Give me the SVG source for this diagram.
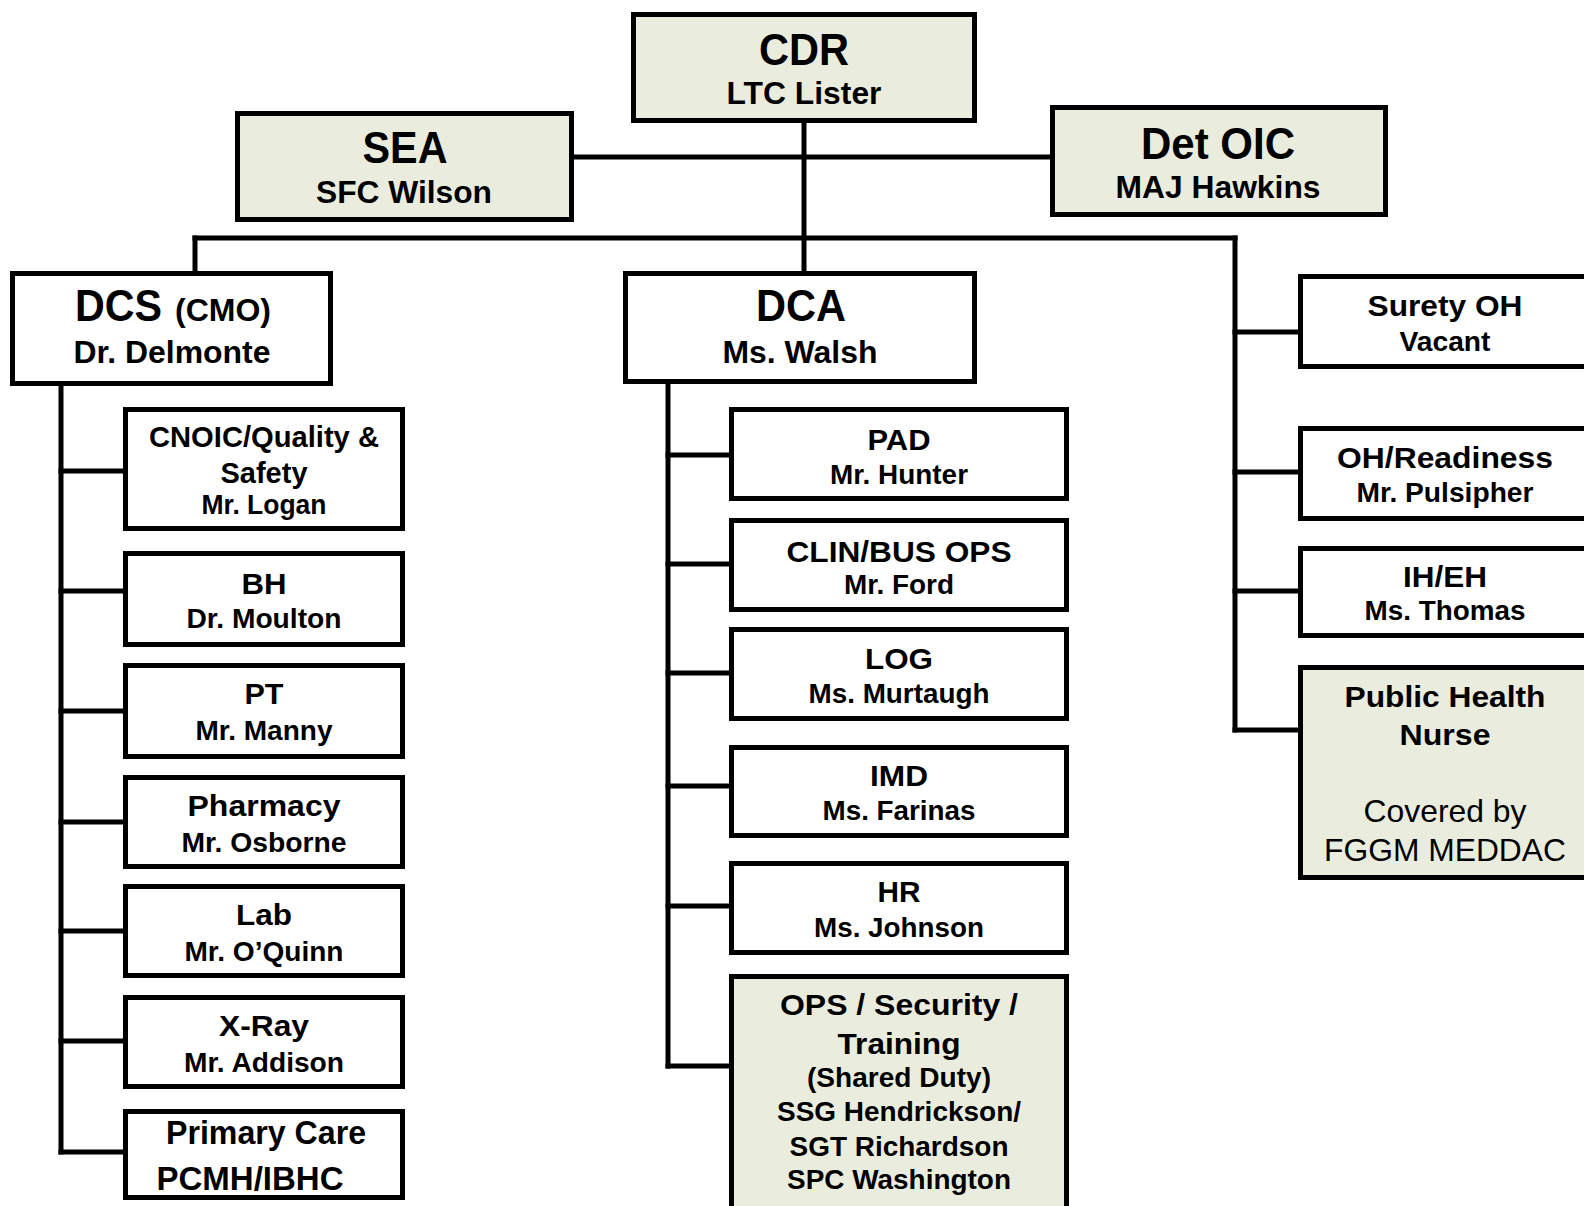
<svg xmlns="http://www.w3.org/2000/svg" width="1584" height="1206" viewBox="0 0 1584 1206">
<style>
.box{fill:#ffffff;stroke:#000;stroke-width:5}
.g{fill:#EAEDDE}
.c{stroke:#000;stroke-width:5;fill:none;stroke-linecap:square}
text{font-family:"Liberation Sans",Arial,sans-serif;font-weight:bold;fill:#000;text-anchor:middle}
.tb{font-size:44px}
.ts{font-size:31px}
.t1{font-size:30px}
.t2{font-size:27px}
.r{font-weight:normal;font-size:32px}
</style>
<rect width="1584" height="1206" fill="#fff"/>
<g id="connectors">
<line class="c" x1="804" y1="123" x2="804" y2="271"/>
<line class="c" x1="574" y1="157" x2="1050" y2="157"/>
<line class="c" x1="195" y1="238" x2="1235" y2="238"/>
<line class="c" x1="195" y1="238" x2="195" y2="271"/>
<line class="c" x1="1235" y1="238" x2="1235" y2="730"/>
<line class="c" x1="1235" y1="332" x2="1298" y2="332"/>
<line class="c" x1="1235" y1="472" x2="1298" y2="472"/>
<line class="c" x1="1235" y1="591" x2="1298" y2="591"/>
<line class="c" x1="1235" y1="730" x2="1298" y2="730"/>
<line class="c" x1="61" y1="386" x2="61" y2="1152"/>
<line class="c" x1="61" y1="471" x2="123" y2="471"/>
<line class="c" x1="61" y1="591" x2="123" y2="591"/>
<line class="c" x1="61" y1="711" x2="123" y2="711"/>
<line class="c" x1="61" y1="822" x2="123" y2="822"/>
<line class="c" x1="61" y1="931" x2="123" y2="931"/>
<line class="c" x1="61" y1="1041" x2="123" y2="1041"/>
<line class="c" x1="61" y1="1152" x2="123" y2="1152"/>
<line class="c" x1="668" y1="384" x2="668" y2="1066"/>
<line class="c" x1="668" y1="455" x2="729" y2="455"/>
<line class="c" x1="668" y1="564" x2="729" y2="564"/>
<line class="c" x1="668" y1="673" x2="729" y2="673"/>
<line class="c" x1="668" y1="786" x2="729" y2="786"/>
<line class="c" x1="668" y1="906" x2="729" y2="906"/>
<line class="c" x1="668" y1="1066" x2="729" y2="1066"/>
</g>
<g id="cdr"><rect class="box g" x="633.5" y="14.5" width="341" height="106"/>
<text class="tb" x="804" y="65" textLength="90" lengthAdjust="spacingAndGlyphs">CDR</text>
<text class="ts" x="804" y="104" textLength="155" lengthAdjust="spacingAndGlyphs">LTC Lister</text></g>
<g id="sea"><rect class="box g" x="237.5" y="113.5" width="334" height="106"/>
<text class="tb" x="405" y="163" textLength="85" lengthAdjust="spacingAndGlyphs">SEA</text>
<text class="ts" x="404" y="203" textLength="176" lengthAdjust="spacingAndGlyphs">SFC Wilson</text></g>
<g id="detoic"><rect class="box g" x="1052.5" y="107.5" width="333" height="107"/>
<text class="tb" x="1218" y="159" textLength="154" lengthAdjust="spacingAndGlyphs">Det OIC</text>
<text class="ts" x="1218" y="198" textLength="205" lengthAdjust="spacingAndGlyphs">MAJ Hawkins</text></g>
<g id="dcs"><rect class="box" x="12.5" y="273.5" width="318" height="110"/>
<text class="tb" x="75" y="321" style="text-anchor:start" textLength="87" lengthAdjust="spacingAndGlyphs">DCS</text>
<text class="ts" x="175" y="321" style="text-anchor:start" textLength="96" lengthAdjust="spacingAndGlyphs">(CMO)</text>
<text class="ts" x="172" y="363" textLength="197" lengthAdjust="spacingAndGlyphs">Dr. Delmonte</text></g>
<g id="dca"><rect class="box" x="625.5" y="273.5" width="349" height="108"/>
<text class="tb" x="801" y="321" textLength="90" lengthAdjust="spacingAndGlyphs">DCA</text>
<text class="ts" x="800" y="363" textLength="155" lengthAdjust="spacingAndGlyphs">Ms. Walsh</text></g>
<g id="cnoic"><rect class="box" x="125.5" y="409.5" width="277" height="119"/>
<text class="t1" x="264" y="447" textLength="230" lengthAdjust="spacingAndGlyphs">CNOIC/Quality &amp;</text>
<text class="t1" x="264" y="483" textLength="87" lengthAdjust="spacingAndGlyphs">Safety</text>
<text class="t2" x="264" y="514" textLength="125" lengthAdjust="spacingAndGlyphs">Mr. Logan</text></g>
<g id="bh"><rect class="box" x="125.5" y="553.5" width="277" height="91"/>
<text class="t1" x="264" y="594" textLength="45" lengthAdjust="spacingAndGlyphs">BH</text>
<text class="t2" x="264" y="628" textLength="155" lengthAdjust="spacingAndGlyphs">Dr. Moulton</text></g>
<g id="pt"><rect class="box" x="125.5" y="665.5" width="277" height="91"/>
<text class="t1" x="264" y="704" textLength="39" lengthAdjust="spacingAndGlyphs">PT</text>
<text class="t2" x="264" y="740" textLength="137" lengthAdjust="spacingAndGlyphs">Mr. Manny</text></g>
<g id="pharmacy"><rect class="box" x="125.5" y="777.5" width="277" height="89"/>
<text class="t1" x="264" y="816" textLength="153" lengthAdjust="spacingAndGlyphs">Pharmacy</text>
<text class="t2" x="264" y="852" textLength="165" lengthAdjust="spacingAndGlyphs">Mr. Osborne</text></g>
<g id="lab"><rect class="box" x="125.5" y="886.5" width="277" height="89"/>
<text class="t1" x="264" y="925" textLength="56" lengthAdjust="spacingAndGlyphs">Lab</text>
<text class="t2" x="264" y="961" textLength="159" lengthAdjust="spacingAndGlyphs">Mr. O’Quinn</text></g>
<g id="xray"><rect class="box" x="125.5" y="997.5" width="277" height="89"/>
<text class="t1" x="264" y="1036" textLength="90" lengthAdjust="spacingAndGlyphs">X-Ray</text>
<text class="t2" x="264" y="1072" textLength="160" lengthAdjust="spacingAndGlyphs">Mr. Addison</text></g>
<g id="primarycare"><rect class="box" x="125.5" y="1111.5" width="277" height="86"/>
<text class="t1" x="266" y="1144" style="font-size:33px" textLength="200" lengthAdjust="spacingAndGlyphs">Primary Care</text>
<text class="t1" x="250" y="1190" style="font-size:33px" textLength="187" lengthAdjust="spacingAndGlyphs">PCMH/IBHC</text></g>
<g id="pad"><rect class="box" x="731.5" y="409.5" width="335" height="89"/>
<text class="t1" x="899" y="450" textLength="63" lengthAdjust="spacingAndGlyphs">PAD</text>
<text class="t2" x="899" y="484" textLength="138" lengthAdjust="spacingAndGlyphs">Mr. Hunter</text></g>
<g id="clinbus"><rect class="box" x="731.5" y="520.5" width="335" height="89"/>
<text class="t1" x="899" y="562" textLength="225" lengthAdjust="spacingAndGlyphs">CLIN/BUS OPS</text>
<text class="t2" x="899" y="594" textLength="110" lengthAdjust="spacingAndGlyphs">Mr. Ford</text></g>
<g id="log"><rect class="box" x="731.5" y="629.5" width="335" height="89"/>
<text class="t1" x="899" y="669" textLength="68" lengthAdjust="spacingAndGlyphs">LOG</text>
<text class="t2" x="899" y="703" textLength="181" lengthAdjust="spacingAndGlyphs">Ms. Murtaugh</text></g>
<g id="imd"><rect class="box" x="731.5" y="747.5" width="335" height="88"/>
<text class="t1" x="899" y="786" textLength="58" lengthAdjust="spacingAndGlyphs">IMD</text>
<text class="t2" x="899" y="820" textLength="153" lengthAdjust="spacingAndGlyphs">Ms. Farinas</text></g>
<g id="hr"><rect class="box" x="731.5" y="863.5" width="335" height="89"/>
<text class="t1" x="899" y="902" textLength="43" lengthAdjust="spacingAndGlyphs">HR</text>
<text class="t2" x="899" y="937" textLength="170" lengthAdjust="spacingAndGlyphs">Ms. Johnson</text></g>
<g id="ops"><rect class="box g" x="731.5" y="976.5" width="335" height="245"/>
<text class="t1" x="899" y="1015" textLength="238" lengthAdjust="spacingAndGlyphs">OPS / Security /</text>
<text class="t1" x="899" y="1054" textLength="123" lengthAdjust="spacingAndGlyphs">Training</text>
<text class="t2" x="899" y="1087" textLength="184" lengthAdjust="spacingAndGlyphs">(Shared Duty)</text>
<text class="t2" x="899" y="1121" textLength="244" lengthAdjust="spacingAndGlyphs">SSG Hendrickson/</text>
<text class="t2" x="899" y="1156" textLength="219" lengthAdjust="spacingAndGlyphs">SGT Richardson</text>
<text class="t2" x="899" y="1189" textLength="224" lengthAdjust="spacingAndGlyphs">SPC Washington</text></g>
<g id="surety"><rect class="box" x="1300.5" y="276.5" width="300" height="90"/>
<text class="t1" x="1445" y="316" textLength="155" lengthAdjust="spacingAndGlyphs">Surety OH</text>
<text class="t2" x="1445" y="351" textLength="91" lengthAdjust="spacingAndGlyphs">Vacant</text></g>
<g id="ohreadiness"><rect class="box" x="1300.5" y="428.5" width="300" height="90"/>
<text class="t1" x="1445" y="468" textLength="216" lengthAdjust="spacingAndGlyphs">OH/Readiness</text>
<text class="t2" x="1445" y="502" textLength="177" lengthAdjust="spacingAndGlyphs">Mr. Pulsipher</text></g>
<g id="iheh"><rect class="box" x="1300.5" y="548.5" width="300" height="87"/>
<text class="t1" x="1445" y="587" textLength="84" lengthAdjust="spacingAndGlyphs">IH/EH</text>
<text class="t2" x="1445" y="620" textLength="161" lengthAdjust="spacingAndGlyphs">Ms. Thomas</text></g>
<g id="publichealth"><rect class="box g" x="1300.5" y="667.5" width="300" height="210"/>
<text class="t1" x="1445" y="707" textLength="201" lengthAdjust="spacingAndGlyphs">Public Health</text>
<text class="t1" x="1445" y="745" textLength="91" lengthAdjust="spacingAndGlyphs">Nurse</text>
<text class="r" x="1445" y="822" textLength="163" lengthAdjust="spacingAndGlyphs">Covered by</text>
<text class="r" x="1445" y="861" textLength="242" lengthAdjust="spacingAndGlyphs">FGGM MEDDAC</text></g>
</svg>
